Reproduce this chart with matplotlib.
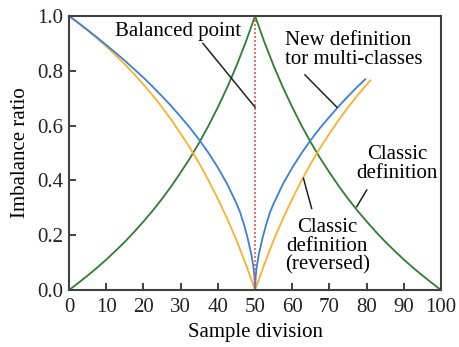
import matplotlib
matplotlib.use("Agg")
import matplotlib.pyplot as plt

plt.rcParams['font.family'] = ['Liberation Serif', 'DejaVu Serif']

# Classic definition (green)
green_x = [0, 2.5, 5, 7.5, 10, 12.5, 15, 17.5, 20, 22.5, 25, 27.5, 30, 32.5, 35, 37.5, 40, 42.5, 45, 47.5, 50,
           52.5, 55, 57.5, 60, 62.5, 65, 67.5, 70, 72.5, 75, 77.5, 80, 82.5, 85, 87.5, 90, 92.5, 95, 97.5, 100]
green_y = [0, 0.026, 0.053, 0.081, 0.111, 0.143, 0.176, 0.212, 0.25, 0.290, 0.333, 0.379, 0.429, 0.481, 0.538, 0.6,
           0.667, 0.739, 0.818, 0.905, 1.0,
           0.905, 0.818, 0.739, 0.667, 0.6, 0.538, 0.481, 0.429, 0.379, 0.333, 0.290, 0.25, 0.212, 0.176, 0.143,
           0.111, 0.081, 0.053, 0.026, 0]

# Classic definition reversed (orange)
orange_x = [0, 2.5, 5, 7.5, 10, 12.5, 15, 17.5, 20, 22.5, 25, 27.5, 30, 32.5, 35, 37.5, 40, 42.5, 45, 47.5, 50,
            52.5, 55, 57.5, 60, 62.5, 65, 67.5, 70, 72.5, 75, 77.5, 80, 81]
orange_y = [1.0, 0.974, 0.947, 0.919, 0.889, 0.857, 0.824, 0.788, 0.75, 0.710, 0.667, 0.621, 0.571, 0.519, 0.462,
            0.4, 0.333, 0.261, 0.182, 0.095, 0,
            0.095, 0.182, 0.261, 0.333, 0.4, 0.462, 0.519, 0.571, 0.621, 0.667, 0.710, 0.75, 0.765]

# New definition for multi-classes (blue)
blue_x = [0, 2.5, 5, 7.5, 10, 12.5, 15, 17.5, 20, 22.5, 25, 27.5, 30, 32.5, 35, 37.5, 40, 42.5, 45, 46, 47, 48,
          49, 49.5, 49.8, 50, 50.2, 50.5, 51, 52, 53, 54, 55, 57.5, 60, 62.5, 65, 67.5, 70, 72.5, 75, 77.5, 79.6]
blue_y = [1.0, 0.975, 0.949, 0.922, 0.894, 0.866, 0.837, 0.806, 0.775, 0.742, 0.707, 0.671, 0.632, 0.592, 0.548,
          0.5, 0.447, 0.387, 0.316, 0.283, 0.24, 0.19, 0.13, 0.09, 0.055, 0,
          0.055, 0.09, 0.13, 0.19, 0.24, 0.283, 0.316, 0.387, 0.447, 0.5, 0.548, 0.592, 0.632, 0.671, 0.707, 0.742,
          0.769]

x_ticks = [0, 10, 20, 30, 40, 50, 60, 70, 80, 90, 100]
y_ticks = [0.0, 0.2, 0.4, 0.6, 0.8, 1.0]

fig = plt.figure(figsize=(4.6, 3.47), dpi=100)
ax = fig.add_axes([0.150, 0.164, 0.809, 0.790])

ax.plot(green_x, green_y, color='#2e7d32', lw=1.3)
ax.plot(orange_x, orange_y, color='#fbb12b', lw=1.3)
ax.plot(blue_x, blue_y, color='#3a80d6', lw=1.3)
ax.plot([50, 50], [0, 1], color='#f05050', lw=1.2, ls=(0, (1.2, 1.2)))

ax.set_xlim(0, 100)
ax.set_ylim(0, 1.0)
ax.set_xticks(x_ticks)
ax.set_yticks(y_ticks)
ax.set_yticklabels([f"{v:.1f}" for v in y_ticks])
ax.tick_params(direction='in', length=5, width=1.2, labelsize=15, colors='#222222')
ax.tick_params(axis='x', pad=6)
ax.tick_params(axis='y', pad=4)
for s in ax.spines.values():
    s.set_color('#404040')
    s.set_linewidth(1.5)

ax.set_xlabel('Sample division', fontsize=15, labelpad=4)
ax.set_ylabel('Imbalance ratio', fontsize=15, labelpad=5)

fs = 15
ax.text(29.3, 0.945, 'Balanced point', fontsize=fs, ha='center', va='center')
ax.plot([36, 50], [0.90, 0.667], color='#222222', lw=1.1)

ax.text(58.1, 0.876, 'New definition\ntor multi-classes', fontsize=fs, ha='left', va='center', linespacing=1.0)
ax.plot([63.4, 72.0], [0.785, 0.667], color='#222222', lw=1.1)

ax.text(88.2, 0.46, 'Classic\ndefinition', fontsize=fs, ha='center', va='center', linespacing=1.0)
ax.plot([80.0, 77.3], [0.365, 0.304], color='#222222', lw=1.1)

ax.text(69.4, 0.16, 'Classic\ndefinition\n(reversed)', fontsize=fs, ha='center', va='center', linespacing=1.0)
ax.plot([63.0, 65.2], [0.408, 0.298], color='#222222', lw=1.1)

fig.savefig('out.png', dpi=100)
